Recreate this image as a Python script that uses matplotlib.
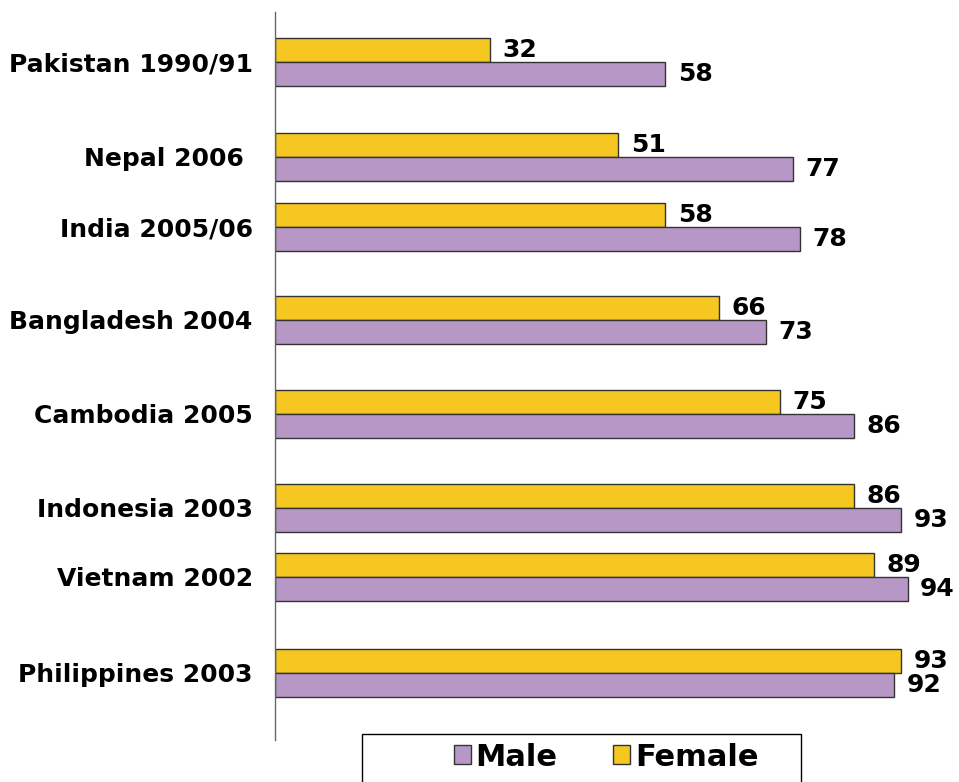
import matplotlib.pyplot as plt
from matplotlib.patches import Rectangle

# data
countries = ['Pakistan 1990/91', 'Nepal 2006 ', 'India 2005/06', 'Bangladesh 2004',
             'Cambodia 2005', 'Indonesia 2003', 'Vietnam 2002', 'Philippines 2003']
female = [32, 51, 58, 66, 75, 86, 89, 93]
male = [58, 77, 78, 73, 86, 93, 94, 92]

# layout: row centres in pixel rows of the 959x782 figure (uneven gaps as in the original)
row_pos = [62, 157, 227, 320, 414, 508, 577, 673]
bar_h = 24

col_female = '#f5c720'
col_male = '#b797c6'
W, H = 959, 782

plt.rcParams['font.family'] = ['DejaVu Sans']
plt.rcParams['font.weight'] = 'bold'

fig = plt.figure(figsize=(W / 100, H / 100), dpi=100, facecolor='w')
ax = fig.add_axes([275 / W, 1 - 740 / H, 673 / W, 728 / H])

y_f = [p - bar_h / 2 for p in row_pos]
y_m = [p + bar_h / 2 for p in row_pos]
bars_f = ax.barh(y_f, female, height=bar_h, color=col_female, edgecolor='#333333',
                 linewidth=1, label='Female')
bars_m = ax.barh(y_m, male, height=bar_h, color=col_male, edgecolor='#333333',
                 linewidth=1, label='Male')

for y, v in zip(y_f, female):
    ax.annotate(str(v), (v, y), xytext=(9, 0), textcoords='offset points',
                va='center', ha='left', fontsize=18, fontweight='bold')
for y, v in zip(y_m, male):
    ax.annotate(str(v), (v, y), xytext=(9, 0), textcoords='offset points',
                va='center', ha='left', fontsize=18, fontweight='bold')

ax.set_xlim(0, 100)
ax.set_ylim(740, 12)
ax.set_xticks([])
ax.set_yticks(row_pos)
ax.set_yticklabels(countries, fontsize=18, fontweight='bold')
ax.tick_params(axis='y', length=0, pad=16)
for s in ['top', 'right', 'bottom']:
    ax.spines[s].set_visible(False)
ax.spines['left'].set_color('#666666')
ax.spines['left'].set_linewidth(1)

# legend with its box running off the bottom edge
fig.patches.append(Rectangle((362 / W, -0.1), (801 - 362) / W, 0.1 + 1 - 734 / H,
                             transform=fig.transFigure, fill=False,
                             edgecolor='black', linewidth=1))
fig.legend([bars_m, bars_f], ['Male', 'Female'], loc='center',
           bbox_to_anchor=(606 / W, 1 - 757 / H), ncol=2, frameon=False,
           prop={'size': 22, 'weight': 'bold'}, handlelength=0.56, handleheight=0.56,
           handletextpad=0.16, columnspacing=1.8, borderaxespad=0)

fig.savefig('out.png', dpi=100)
